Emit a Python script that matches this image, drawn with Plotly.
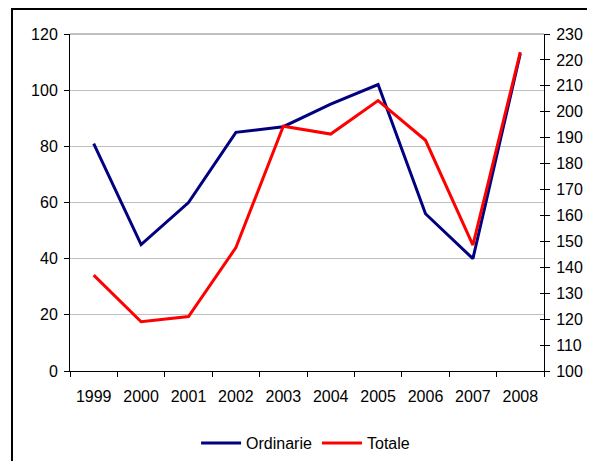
import plotly.graph_objects as go

years = ["1999", "2000", "2001", "2002", "2003", "2004", "2005", "2006", "2007", "2008"]
ordinarie = [81, 45, 60, 85, 87, 95, 102, 56, 40, 113]
totale = [137, 119, 121, 147.6, 194.4, 191.4, 204.3, 189, 148.6, 223]

font = dict(family="Arial, Liberation Sans, sans-serif", size=16, color="#000000")

fig = go.Figure()
fig.add_trace(go.Scatter(x=years, y=ordinarie, name="Ordinarie", mode="lines",
                         line=dict(color="#000080", width=3), yaxis="y"))
fig.add_trace(go.Scatter(x=years, y=totale, name="Totale", mode="lines",
                         line=dict(color="#FF0000", width=3), yaxis="y2"))
# invisible helper trace so the inner-tick overlay axis is drawn
fig.add_trace(go.Scatter(x=years, y=totale, mode="lines", showlegend=False,
                         line=dict(width=0), opacity=0, hoverinfo="skip", yaxis="y3"))

fig.update_layout(
    width=595, height=461,
    margin=dict(l=62, r=59, t=26, b=98, autoexpand=False),
    paper_bgcolor="white", plot_bgcolor="white",
    font=font,
    showlegend=True,
    legend=dict(orientation="h", x=0.497, xanchor="center", y=-0.214, yanchor="middle",
                font=font, itemwidth=40, tracegroupgap=0, traceorder="normal"),
    xaxis=dict(type="category", range=[-0.5, 9.5], showgrid=False, showline=True,
               linecolor="#000000", linewidth=1, automargin=False,
               ticks="outside", ticklen=5, tickcolor="#000000", tickson="boundaries",
               ticklabelstandoff=11, zeroline=False),
    yaxis=dict(range=[0, 120], dtick=20, showgrid=True, gridcolor="#c0c0c0", gridwidth=1,
               showline=True, linecolor="#000000", linewidth=1, ticks="outside", ticklen=5,
               tickcolor="#000000", zeroline=False, ticklabelstandoff=3, automargin=False),
    yaxis2=dict(range=[100, 230], dtick=10, overlaying="y", side="right", showgrid=False,
                showline=True, linecolor="#000000", linewidth=1, ticks="outside", ticklen=5,
                tickcolor="#000000", zeroline=False, ticklabelstandoff=3, automargin=False),
    yaxis3=dict(range=[100, 230], dtick=10, overlaying="y", side="right", showgrid=False,
                showline=False, ticks="inside", ticklen=4, tickcolor="#000000",
                showticklabels=False, zeroline=False, automargin=False),
    shapes=[
        dict(type="line", xref="paper", yref="paper", x0=0, x1=1, y0=1, y1=1,
             line=dict(color="#808080", width=1)),
        dict(type="rect", xref="paper", yref="paper", x0=-0.1224, x1=1.14, y0=-0.30, y1=1.0742,
             line=dict(color="#000000", width=2), layer="below"),
    ],
)

fig.write_html("out.html")
